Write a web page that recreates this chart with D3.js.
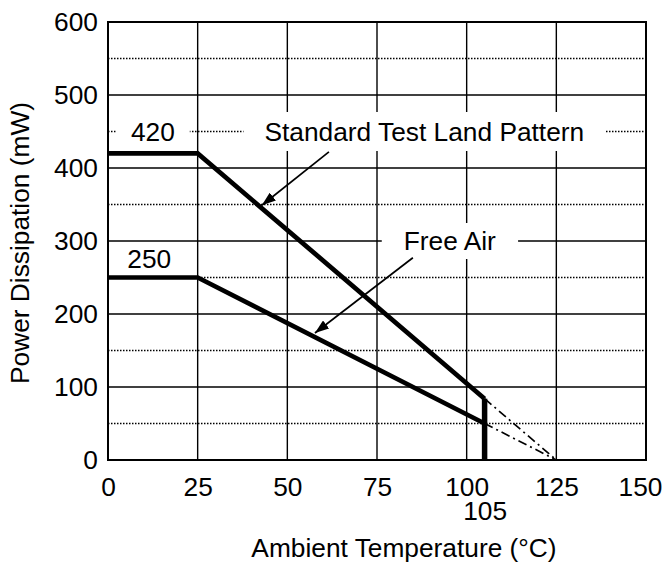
<!DOCTYPE html>
<html>
<head>
<meta charset="utf-8">
<script src="https://cdn.jsdelivr.net/npm/d3@7"></script>
<style>
  html, body { margin: 0; padding: 0; background: #fff; }
  svg text { font-family: "Liberation Sans", Arial, sans-serif; fill: #000; }
</style>
</head>
<body>
<svg id="chart" width="664" height="566"></svg>
<script>
// ---------- data ----------
const xTicks = [0, 25, 50, 75, 100, 125, 150];
const xExtraTick = [105];
const yTicks = [0, 100, 200, 300, 400, 500, 600];
const yMinorTicks = [50, 150, 250, 350, 450, 550];

const standardTemp  = [0, 25, 105];
const standardPower = [420, 420, 84];
const freeAirTemp   = [0, 25, 105];
const freeAirPower  = [250, 250, 50];
const cutoffTemp    = [105, 105];
const cutoffPower   = [84, 0];
const standardExtTemp  = [105, 125];
const standardExtPower = [84, 0];
const freeAirExtTemp   = [105, 125];
const freeAirExtPower  = [50, 0];

const labelTexts = ["420", "250", "Standard Test Land Pattern", "Free Air"];
const labelTemp  = [12.5, 11.5, 88.2, 95.3];
const labelPower = [450, 275, 450, 300];

const arrowFromTemp  = [61.6, 85.0];
const arrowFromPower = [422, 277];
const arrowToTemp    = [42.9, 57.7];
const arrowToPower   = [349, 174];

const xTitle = "Ambient Temperature (\u00B0C)";
const yTitle = "Power Dissipation (mW)";

// ---------- layout ----------
const L = 108, R = 646, T = 22, B = 460;
const FS = 26.3;
const svg = d3.select("#chart");
const x = d3.scaleLinear().domain([0, 150]).range([L, R]);
const y = d3.scaleLinear().domain([0, 600]).range([B, T]);

// grid
const g = svg.append("g");
g.selectAll("line.vg").data(xTicks.slice(1, -1)).join("line")
  .attr("x1", d => x(d)).attr("x2", d => x(d)).attr("y1", T).attr("y2", B)
  .attr("stroke", "#000").attr("stroke-width", 1.4);
g.selectAll("line.hg").data(yTicks.slice(1, -1)).join("line")
  .attr("x1", L).attr("x2", R).attr("y1", d => y(d)).attr("y2", d => y(d))
  .attr("stroke", "#000").attr("stroke-width", 1.4);
g.selectAll("line.hm").data(yMinorTicks).join("line")
  .attr("x1", L).attr("x2", R).attr("y1", d => y(d)).attr("y2", d => y(d))
  .attr("stroke", "#000").attr("stroke-width", 1.3).attr("stroke-dasharray", "1.5,1.5");

// label white boxes (hide grid behind labels)
const boxPad = [15, 15, 21, 22];
const boxH = [38, 34, 39, 36];
const labels = labelTexts.map((t, i) => ({t, xt: labelTemp[i], p: labelPower[i], pad: boxPad[i], h: boxH[i]}));
const boxG = svg.append("g");
const textG = svg.append("g");

labels.forEach(l => {
  const tx = textG.append("text")
    .attr("x", x(l.xt)).attr("y", y(l.p)).attr("dy", "0.35em")
    .attr("text-anchor", "middle").attr("font-size", FS).text(l.t);
  const bb = tx.node().getBBox();
  boxG.append("rect")
    .attr("x", bb.x - l.pad).attr("width", bb.width + 2 * l.pad)
    .attr("y", y(l.p) - l.h / 2).attr("height", l.h)
    .attr("fill", "#fff");
});

// frame
svg.append("rect").attr("x", L).attr("y", T).attr("width", R - L).attr("height", B - T)
  .attr("fill", "none").attr("stroke", "#000").attr("stroke-width", 2);

// extrapolation dash-dot lines
const line = d3.line().x(d => x(d[0])).y(d => y(d[1]));
[[standardExtTemp, standardExtPower], [freeAirExtTemp, freeAirExtPower]].forEach(([tt, pp]) => {
  svg.append("path").datum(d3.zip(tt, pp)).attr("d", line)
    .attr("fill", "none").attr("stroke", "#000").attr("stroke-width", 1.7)
    .attr("stroke-dasharray", "9,4,2,4");
});

// curves
[[standardTemp, standardPower], [freeAirTemp, freeAirPower]].forEach(([tt, pp]) => {
  svg.append("path").datum(d3.zip(tt, pp)).attr("d", line)
    .attr("fill", "none").attr("stroke", "#000").attr("stroke-width", 4.7)
    .attr("stroke-linejoin", "miter");
});
svg.append("path").datum(d3.zip(cutoffTemp, cutoffPower)).attr("d", line)
  .attr("fill", "none").attr("stroke", "#000").attr("stroke-width", 5.5);

// arrows
svg.append("defs").append("marker").attr("id", "ah")
  .attr("markerUnits", "userSpaceOnUse").attr("viewBox", "0 0 14 10")
  .attr("refX", 14).attr("refY", 5).attr("markerWidth", 14).attr("markerHeight", 10)
  .attr("orient", "auto")
  .append("path").attr("d", "M0,0 L14,5 L0,10 Z").attr("fill", "#000");
arrowFromTemp.forEach((t, i) => {
  svg.append("line")
    .attr("x1", x(t)).attr("y1", y(arrowFromPower[i]))
    .attr("x2", x(arrowToTemp[i])).attr("y2", y(arrowToPower[i]))
    .attr("stroke", "#000").attr("stroke-width", 1.7).attr("marker-end", "url(#ah)");
});

// axes
const xAxis = svg.append("g").attr("transform", `translate(0,${B})`)
  .call(d3.axisBottom(x).tickValues(xTicks).tickSize(0).tickPadding(17.5).tickFormat(d3.format("d")));
xAxis.select(".domain").remove();
xAxis.selectAll("text").attr("font-size", FS).attr("font-family", null)
  .attr("dx", d => d === 150 ? -6 : 0);

const xAxis2 = svg.append("g").attr("transform", `translate(0,${B})`)
  .call(d3.axisBottom(x).tickValues(xExtraTick).tickSize(0).tickPadding(41.5).tickFormat(d3.format("d")));
xAxis2.select(".domain").remove();
xAxis2.selectAll("text").attr("font-size", FS).attr("font-family", null);

const yAxis = svg.append("g").attr("transform", `translate(${L},0)`)
  .call(d3.axisLeft(y).tickValues(yTicks).tickSize(0).tickPadding(10).tickFormat(d3.format("d")));
yAxis.select(".domain").remove();
yAxis.selectAll("text").attr("font-size", FS).attr("font-family", null);

// titles
svg.append("text").attr("x", 404).attr("y", 557).attr("text-anchor", "middle")
  .attr("font-size", FS).text(xTitle);
svg.append("text").attr("transform", `translate(29,${(T + B) / 2 + 2}) rotate(-90)`)
  .attr("text-anchor", "middle").attr("font-size", FS).text(yTitle);
</script>
</body>
</html>
